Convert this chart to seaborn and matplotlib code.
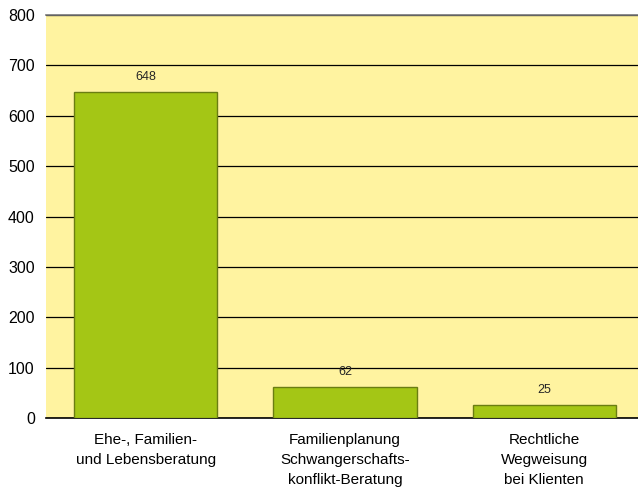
import matplotlib
matplotlib.use("Agg")
import matplotlib.pyplot as plt
import seaborn as sns
import pandas as pd

# Data
categories = ["Ehe-, Familien-\nund Lebensberatung",
              "Familienplanung\nSchwangerschafts-\nkonflikt-Beratung",
              "Rechtliche\nWegweisung\nbei Klienten"]
values = [648, 62, 25]
yticks = [0, 100, 200, 300, 400, 500, 600, 700, 800]

df = pd.DataFrame({"Kategorie": categories, "Anzahl": values})

sns.set_style("white")
plt.rcParams['font.family'] = ['Liberation Sans', 'DejaVu Sans']

fig = plt.figure(figsize=(6.38, 4.93), dpi=100)
ax = fig.add_axes([0.072, 0.152, 0.928, 0.8175])
ax.set_facecolor("#FFF3A0")

sns.barplot(data=df, x="Kategorie", y="Anzahl", color="#A4C615",
            width=0.72, edgecolor="#6A7D12", linewidth=1, saturation=1, ax=ax, zorder=3)

ax.set_ylim(0, 800)
ax.set_xlim(-0.5, 2.47)
ax.set_yticks(yticks)
ax.yaxis.grid(True, color="black", linewidth=0.9, zorder=0)
ax.set_axisbelow(True)
for s in ["left", "right"]:
    ax.spines[s].set_visible(False)
ax.spines["top"].set_color("#777777")
ax.spines["top"].set_linewidth(1.2)
ax.spines["bottom"].set_color("black")
ax.spines["bottom"].set_linewidth(1.2)
ax.tick_params(axis="y", length=0, labelsize=11.5, colors="black", pad=8)
ax.tick_params(axis="x", length=0, labelsize=11, colors="black", pad=11)
for lbl in ax.get_xticklabels():
    lbl.set_linespacing(1.55)
ax.set_xlabel("")
ax.set_ylabel("")

for i, v in enumerate(values):
    ax.text(i, v + 18, str(v), ha="center", va="bottom", fontsize=9)

fig.savefig("out.png", dpi=100)
